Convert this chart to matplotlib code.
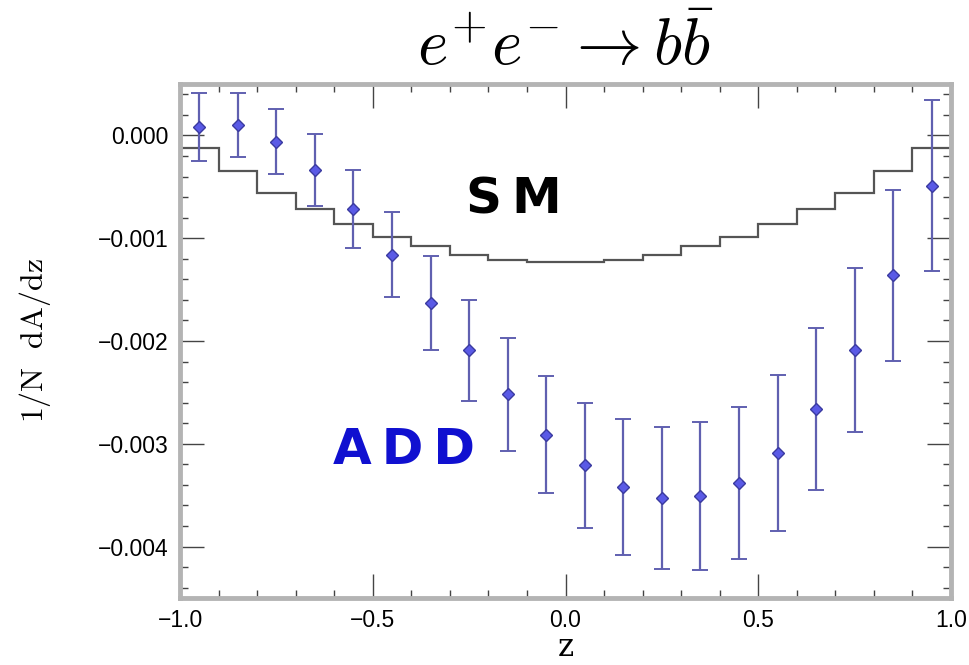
import numpy as np
import matplotlib
matplotlib.use("Agg")
from matplotlib import pyplot as plt
from matplotlib.ticker import MultipleLocator, FuncFormatter

# dane
bin_edges = [-1.0, -0.9, -0.8, -0.7, -0.6, -0.5, -0.4, -0.3, -0.2, -0.1, 0.0,
             0.1, 0.2, 0.3, 0.4, 0.5, 0.6, 0.7, 0.8, 0.9, 1.0]
sm_values = [-0.00012, -0.00035, -0.00056, -0.00072, -0.00086, -0.00099, -0.00108,
             -0.00116, -0.00121, -0.00123, -0.00123, -0.00121, -0.00116, -0.00108,
             -0.00099, -0.00086, -0.00072, -0.00056, -0.00035, -0.00012]
add_z = [-0.95, -0.85, -0.75, -0.65, -0.55, -0.45, -0.35, -0.25, -0.15, -0.05,
         0.05, 0.15, 0.25, 0.35, 0.45, 0.55, 0.65, 0.75, 0.85, 0.95]
add_values = [0.00008, 0.00010, -0.00006, -0.00034, -0.00072, -0.00116, -0.00163,
              -0.00209, -0.00252, -0.00291, -0.00321, -0.00342, -0.00353, -0.00351,
              -0.00338, -0.00309, -0.00266, -0.00209, -0.00136, -0.00049]
add_errors = [0.00033, 0.00031, 0.00032, 0.00035, 0.00038, 0.00041, 0.00046,
              0.00049, 0.00055, 0.00057, 0.00061, 0.00066, 0.00069, 0.00072,
              0.00074, 0.00076, 0.00079, 0.00080, 0.00083, 0.00083]
x_ticks = [-1.0, -0.5, 0.0, 0.5, 1.0]
y_ticks = [0.0, -0.001, -0.002, -0.003, -0.004]

plt.rcParams['mathtext.fontset'] = 'cm'

fig = plt.figure(figsize=(9.7, 6.65), dpi=100)
ax = fig.add_axes([0.1856, 0.1008, 0.7948, 0.7729])

# histogram SM
ax.stairs(sm_values, bin_edges, color='#555555', linewidth=1.6, baseline=None)

# punkty ADD z bledami
ax.errorbar(add_z, add_values, yerr=add_errors, fmt='D', color='#6060b0',
            ecolor='#6060b0', elinewidth=1.6, capsize=6, capthick=1.4,
            markersize=6, markerfacecolor='#5a5ae6', markeredgecolor='#3a3aa0')

ax.set_xlim(-1.0, 1.0)
ax.set_ylim(-0.0045, 0.0005)

ax.set_xticks(x_ticks)
ax.set_yticks(y_ticks)
ax.xaxis.set_minor_locator(MultipleLocator(0.1))
ax.yaxis.set_minor_locator(MultipleLocator(0.0002))
ax.xaxis.set_major_formatter(FuncFormatter(lambda v, p: f"{v:.1f}".replace('-', '\u2212')))
ax.yaxis.set_major_formatter(FuncFormatter(lambda v, p: f"{v:.3f}".replace('-', '\u2212')))

ax.tick_params(which='both', direction='in', top=True, right=True,
               color='#444444', width=1.0)
ax.tick_params(which='major', length=17, labelsize=16.5)
ax.tick_params(axis='y', which='major', pad=8)
ax.tick_params(axis='x', which='major', pad=8)
ax.tick_params(which='minor', length=6)
for lab in ax.get_xticklabels() + ax.get_yticklabels():
    lab.set_family('Liberation Sans')

for s in ax.spines.values():
    s.set_color('#b4b4b4')
    s.set_linewidth(3.5)

ax.set_title(r'$e^{+}e^{-}\rightarrow b\bar{b}$', fontsize=47, pad=14)
ax.set_xlabel('z', fontsize=22, family='DejaVu Serif', va='center')
ax.xaxis.set_label_coords(0.5, -0.097)
ax.set_ylabel(r'$\mathrm{1/N\ \ dA/dz}$', fontsize=23)
ax.yaxis.set_label_coords(-0.165, 0.5)

ax.text(-0.135, -0.00062, 'S\u2009M', fontsize=36, fontweight='bold', color='black',
        family='DejaVu Sans', ha='center', va='center')
ax.text(-0.418, -0.00306, 'A\u2009D\u2009D', fontsize=36, fontweight='bold', color='#1010d0',
        family='DejaVu Sans', ha='center', va='center')

fig.savefig('out.png', dpi=100)
